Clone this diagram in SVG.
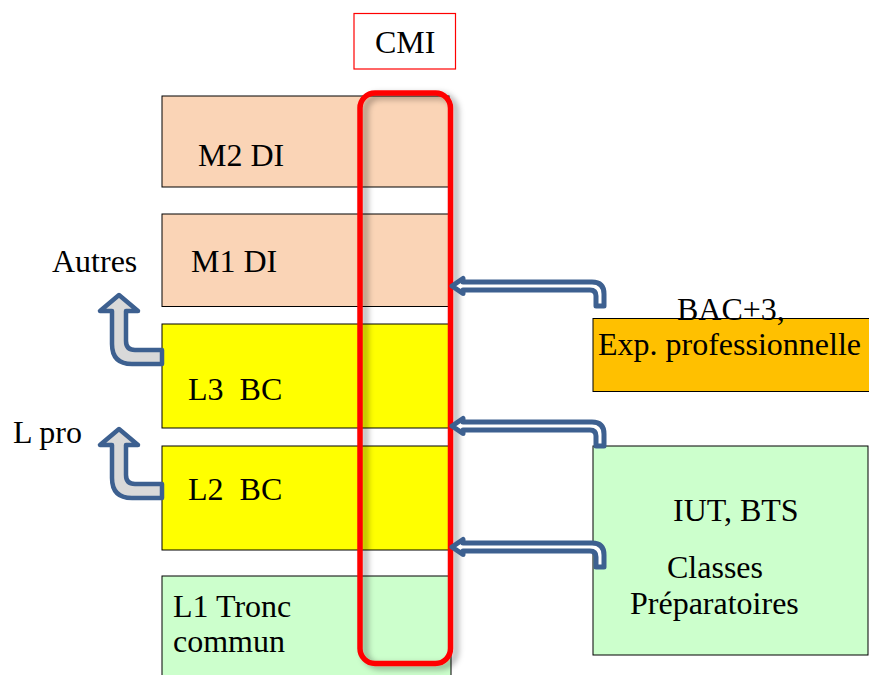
<svg xmlns="http://www.w3.org/2000/svg" width="869" height="675" viewBox="0 0 869 675">
  <defs>
    <style>
      text { font-family: "Liberation Serif", "Times New Roman", serif; font-size: 32px; fill: #000; }
      .box { stroke: #000; stroke-width: 1; }
      .peach { fill: #FAD4B6; }
      .yellow { fill: #FFFF00; }
      .green { fill: #CCFFCC; }
      .orange { fill: #FFC000; }
      .in-arrow { fill: #fff; stroke: #3D6090; stroke-width: 5; stroke-linejoin: round; }
      .out-arrow { fill: #D9D9D9; stroke: #3D6090; stroke-width: 4.5; stroke-linejoin: round; }
    </style>
    <filter id="soft-shadow" x="-20%" y="-5%" width="140%" height="110%">
      <feDropShadow dx="5" dy="3" stdDeviation="3" flood-color="#000" flood-opacity="0.35"/>
    </filter>
    <!-- hollow arrow pointing left into the CMI track, fed from below on the right -->
    <path id="feed-arrow" d="M452,286 L463,278.5 V282 H592 Q604,282 604,294 V306 H596 V296 Q596,290 590,290 H463 V293.5 Z"/>
    <!-- exit arrow turning upward out of a licence year -->
    <path id="exit-arrow" d="M162,350 H135 Q126,350 126,341 V311 H138 L119,295 L100,311 H112 V344 Q112,364 132,364 H162 Z"/>
  </defs>

  <rect width="869" height="675" fill="#fff"/>

  <!-- title -->
  <g id="cmi">
    <rect x="354" y="13.5" width="101.5" height="55.5" fill="#fff" stroke="#FF0000" stroke-width="1.2"/>
    <text x="375" y="53">CMI</text>
  </g>

  <!-- programme years -->
  <g id="m2">
    <rect class="box peach" x="162" y="96" width="287" height="91"/>
    <text x="198" y="166">M2 DI</text>
  </g>
  <g id="m1">
    <rect class="box peach" x="162" y="214" width="287" height="92.5"/>
    <text x="191" y="272">M1 DI</text>
  </g>
  <g id="l3">
    <rect class="box yellow" x="162" y="324" width="287" height="104"/>
    <text x="188" y="400" xml:space="preserve">L3  BC</text>
  </g>
  <g id="l2">
    <rect class="box yellow" x="162" y="446" width="287" height="104"/>
    <text x="188" y="500" xml:space="preserve">L2  BC</text>
  </g>
  <g id="l1">
    <rect class="box green" x="162" y="576" width="289" height="110"/>
    <text x="173" y="617">L1 Tronc</text>
    <text x="173" y="652">commun</text>
  </g>

  <!-- CMI track spanning the years -->
  <g id="cmi-track">
    <rect x="360" y="93" width="90.5" height="570.5" rx="15" ry="15" fill="none" stroke="#FF0000" stroke-width="5.5" filter="url(#soft-shadow)"/>
  </g>

  <!-- entry points -->
  <g id="bac3">
    <rect class="box orange" x="593" y="318.5" width="280" height="73"/>
    <text x="677" y="320">BAC+3,</text>
    <text x="598" y="355">Exp. professionnelle</text>
  </g>
  <g id="iut">
    <rect class="box green" x="593" y="446" width="275" height="209"/>
    <text x="673" y="521">IUT, BTS</text>
    <text x="667" y="578">Classes</text>
    <text x="630" y="614">Préparatoires</text>
  </g>

  <!-- exit labels -->
  <g id="autres">
    <text x="52" y="272">Autres</text>
  </g>
  <g id="lpro">
    <text x="13" y="443">L pro</text>
  </g>

  <g id="connectors">
    <use href="#feed-arrow" class="in-arrow"/>
    <use href="#feed-arrow" class="in-arrow" transform="translate(0,140)"/>
    <use href="#feed-arrow" class="in-arrow" transform="translate(0,261)"/>
    <use href="#exit-arrow" class="out-arrow"/>
    <use href="#exit-arrow" class="out-arrow" transform="translate(0,134)"/>
  </g>
</svg>
